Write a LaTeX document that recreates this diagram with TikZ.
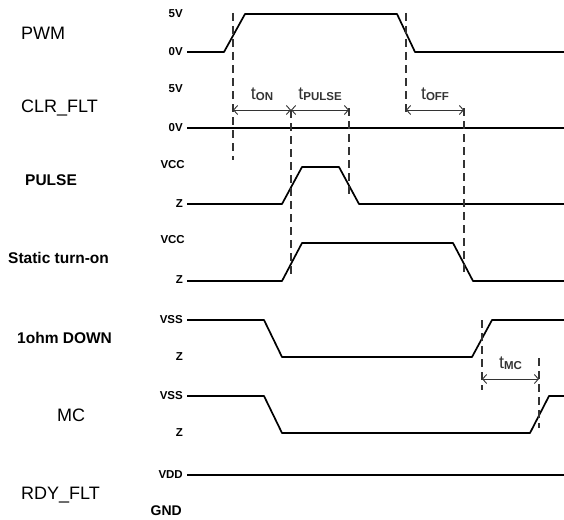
\documentclass[tikz,border=0pt]{standalone}
\usepackage{fontspec}
\setmainfont{Liberation Sans}
\usetikzlibrary{arrows.meta,positioning}
\newcommand{\tsub}[1]{t\raisebox{-1pt}{\fontsize{11.5}{12}\selectfont\bfseries #1}}

\begin{document}
\begin{tikzpicture}[x=1pt,y=-1pt]
  \tikzset{
    wave/.style={line width=1.7pt, line join=round},
    bus/.style={line width=2.5pt},
    guide/.style={line width=1.2pt, dash pattern=on 8pt off 5pt, black!80},
    span/.style={{Straight Barb[length=4pt,width=9pt]}-{Straight Barb[length=4pt,width=9pt]},
                 line width=0.9pt, black!80},
    sig/.style={font=\fontsize{18}{18}\selectfont, anchor=west, inner sep=0pt},
    bsig/.style={font=\fontsize{15.5}{16}\selectfont\bfseries, anchor=west, inner sep=0pt},
    lvl/.style={font=\fontsize{11.5}{12}\selectfont\bfseries, anchor=east, inner sep=0pt},
    tlab/.style={font=\fontsize{18}{18}\selectfont, inner sep=0pt},
  }
  \useasboundingbox (0,0) rectangle (564,519);

  % signal names
  \node [sig]  (pwm)    at (21,33)  {PWM};
  \node [sig]  (clr)    at (21,108) {CLR\_FLT};
  \node [bsig] (pulse)  at (25,180) {PULSE};
  \node [bsig] (static) at (8,258)  {Static turn-on};
  \node [bsig] (down)   at (17,338) {1ohm DOWN};
  \node [sig]  (mc)     at (57,415) {MC};
  \node [sig]  (rdy)    at (21,495) {RDY\_FLT};

  % levels
  \node [lvl] (pwmhi)  at (183,14)  {5V};
  \node [lvl] (pwmlo)  at (183,52)  {0V};
  \node [lvl] (clrhi)  at (183,89)  {5V};
  \node [lvl] (clrlo)  at (183,128) {0V};
  \node [lvl] (pulhi)  at (185,165) {VCC};
  \node [lvl] (pullo)  at (183,204) {Z};
  \node [lvl] (stahi)  at (185,240) {VCC};
  \node [lvl] (stalo)  at (183,280) {Z};
  \node [lvl] (dowhi)  at (183,320) {VSS};
  \node [lvl] (dowlo)  at (183,357) {Z};
  \node [lvl] (mchi)   at (183,396) {VSS};
  \node [lvl] (mclo)   at (183,433) {Z};
  \node [lvl] (rdyhi)  at (183,475) {VDD};
  \node [lvl, font=\fontsize{14}{14}\selectfont\bfseries] (rdylo) at (182,511) {GND};

  % waveforms
  \draw [wave] (187,52) -- (224,52) -- (245,14) -- (397,14) -- (415,52) -- (564,52);
  \draw [bus]  (187,128) -- (564,128);
  \draw [wave] (187,204) -- (282,204) -- (302,167) -- (339,167) -- (359,204) -- (564,204);
  \draw [wave] (187,281) -- (282,281) -- (302,243) -- (453,243) -- (473,281) -- (564,281);
  \draw [wave] (187,320) -- (264,320) -- (282,357) -- (472,357) -- (492,320) -- (564,320);
  \draw [wave] (187,396) -- (264,396) -- (282,433) -- (530,433) -- (549,396) -- (564,396);
  \draw [bus]  (187,475) -- (564,475);

  % timing marks
  \coordinate (a1) at (233,110);
  \coordinate (a2) at (291,110);
  \coordinate (a3) at (349,110);
  \coordinate (a4) at (406,110);
  \coordinate (a5) at (464,110);
  \coordinate (m1) at (482,379);
  \coordinate (m2) at (539,379);

  \draw [guide] (233,13) -- (233,160);
  \draw [guide] (291,110) -- (291,277);
  \draw [guide] (349,108) -- (349,198);
  \draw [guide] (406,13) -- (406,112);
  \draw [guide] (464,108) -- (464,276);
  \draw [guide] (482,320) -- (482,390);
  \draw [guide] (539,358) -- (539,428);

  \draw [span] (a1) -- node [tlab, midway, above=9pt] {\tsub{ON}}    (a2);
  \draw [span] (a2) -- node [tlab, midway, above=9pt] {\tsub{PULSE}} (a3);
  \draw [span] (a4) -- node [tlab, midway, above=9pt] {\tsub{OFF}}   (a5);
  \draw [span] (m1) -- node [tlab, midway, above=9pt] {\tsub{MC}}    (m2);
\end{tikzpicture}
\end{document}
